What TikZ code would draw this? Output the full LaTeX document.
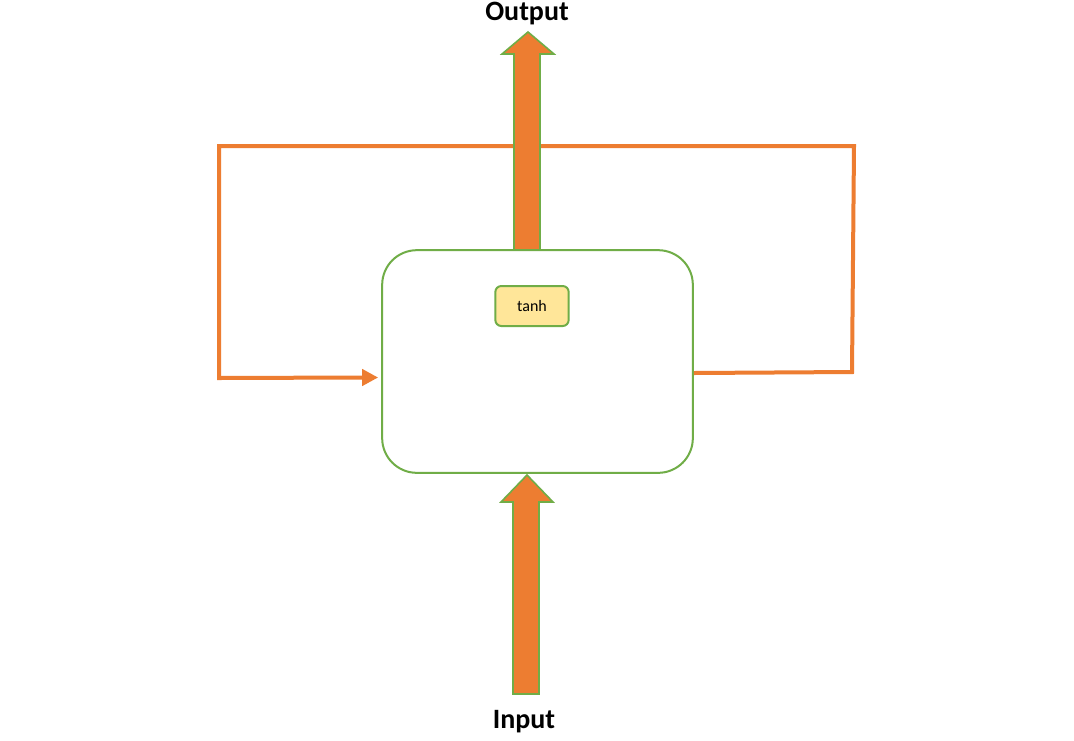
\documentclass[tikz,border=0pt]{standalone}
\usepackage{fontspec}
\setmainfont{Carlito}
\usetikzlibrary{arrows.meta}
\definecolor{orng}{HTML}{ED7D31}
\definecolor{grn}{HTML}{70AD47}
\definecolor{ylw}{HTML}{FFE699}
\begin{document}
\begin{tikzpicture}[x=0.75pt,y=-0.75pt,
  cellbox/.style={draw=grn,line width=1.5pt,rounded corners=26pt,minimum width=233pt,minimum height=167pt,inner sep=0pt},
  gatebox/.style={draw=grn,fill=ylw,line width=1.5pt,rounded corners=4.5pt,minimum width=55pt,minimum height=30pt,inner sep=0pt,font=\fontsize{12}{14}\selectfont},
  lbl/.style={font=\bfseries\fontsize{21}{25}\selectfont,inner sep=0pt},
  loopline/.style={draw=orng,line width=3pt},
  blockarrow/.style={fill=orng,draw=grn,line width=1.2pt,line join=miter}]
\useasboundingbox (0,0) rectangle (1074,740);
\fill[white] (0,0) rectangle (1074,740);
% cell
\node[cellbox] (cell) at (537.5,361.5) {};
\node[gatebox] (tanh) at (532,306) {tanh};
% loop
\coordinate (r1) at (852,372);
\coordinate (r2) at (854,146);
\coordinate (l1) at (219,146);
\coordinate (l2) at (219,378);
\draw[loopline,line join=miter] ([yshift=-11.5*0.75pt]cell.east) -- (r1) -- (r2) -- (l1) -- (l2) -- (363,377.5);
\draw[loopline,-{Triangle[length=12pt,width=12pt]}] (362,377.5) -- ([xshift=-3*0.75pt,yshift=-16*0.75pt]cell.west);
% output arrow
\draw[blockarrow] (514,250) -- (514,54) -- (502,54) -- (528,32) -- (554,54) -- (540,54) -- (540,250) -- cycle;
% input arrow
\draw[blockarrow] (513,694) -- (513,502) -- (501,502) -- (527,475) -- (553,502) -- (539,502) -- (539,694) -- cycle;
% labels
\node[lbl] (out) at (527,14) {Output};
\node[lbl] (in) at (524,722) {Input};
\end{tikzpicture}
\end{document}
